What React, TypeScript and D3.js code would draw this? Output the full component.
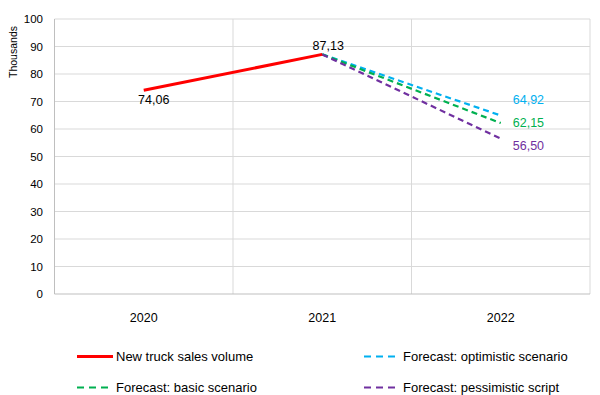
import React, { useEffect, useRef } from 'react';
import * as d3 from 'd3';

const years = ['2020', '2021', '2022'];
const actual = [74.06, 87.13];
const optimistic = [87.13, 64.92];
const basic = [87.13, 62.15];
const pessimistic = [87.13, 56.5];
const yTicks = [0, 10, 20, 30, 40, 50, 60, 70, 80, 90, 100];

const series = [
  { name: 'New truck sales volume', values: actual, start: 0, color: '#FF0000', dashed: false },
  { name: 'Forecast: optimistic scenario', values: optimistic, start: 1, color: '#00B0F0', dashed: true },
  { name: 'Forecast: basic scenario', values: basic, start: 1, color: '#00B050', dashed: true },
  { name: 'Forecast: pessimistic script', values: pessimistic, start: 1, color: '#7030A0', dashed: true },
];

export default function App() {
  const svgRef = useRef(null);

  useEffect(() => {
    const svg = d3.select(svgRef.current);
    svg.selectAll('*').remove();
    const font = 'Liberation Sans, Arial, sans-serif';

    const left = 54.5, right = 590, top = 19, bottom = 294;
    const x = d3.scaleBand().domain(years).range([left, right]);
    const y = d3.scaleLinear().domain([0, 100]).range([bottom, top]);
    const cx = (i) => x(years[i]) + x.bandwidth() / 2;

    // grid
    svg.append('g').selectAll('line').data(yTicks.slice(1)).enter().append('line')
      .attr('x1', left).attr('x2', right)
      .attr('y1', d => y(d)).attr('y2', d => y(d))
      .attr('stroke', '#D9D9D9').attr('stroke-width', 1);
    svg.append('g').selectAll('line').data(years.slice(1).concat(['end'])).enter().append('line')
      .attr('x1', (d, i) => x(years[0]) + x.bandwidth() * (i + 1))
      .attr('x2', (d, i) => x(years[0]) + x.bandwidth() * (i + 1))
      .attr('y1', top).attr('y2', bottom)
      .attr('stroke', '#D9D9D9').attr('stroke-width', 1);
    // axes lines
    svg.append('line').attr('x1', left).attr('x2', left).attr('y1', top).attr('y2', bottom)
      .attr('stroke', '#BFBFBF');
    svg.append('line').attr('x1', left).attr('x2', right).attr('y1', bottom).attr('y2', bottom)
      .attr('stroke', '#BFBFBF');

    // y labels
    svg.append('g').selectAll('text').data(yTicks).enter().append('text')
      .attr('x', 43).attr('y', d => y(d)).attr('dy', '0.35em')
      .attr('text-anchor', 'end').attr('font-family', font).attr('font-size', 11.5)
      .attr('fill', '#000').text(d => d);
    svg.append('text')
      .attr('transform', `translate(17,52) rotate(-90)`)
      .attr('text-anchor', 'middle').attr('font-family', font).attr('font-size', 10.5)
      .text('Thousands');

    // x labels
    svg.append('g').selectAll('text').data(years).enter().append('text')
      .attr('x', (d, i) => cx(i)).attr('y', 318).attr('dy', '0.35em')
      .attr('text-anchor', 'middle').attr('font-family', font).attr('font-size', 12.5)
      .text(d => d);

    // lines (forecasts first, actual on top)
    const line = d3.line().x(d => d[0]).y(d => d[1]);
    [...series.slice(1), series[0]].forEach(s => {
      const pts = s.values.map((v, i) => [cx(s.start + i), y(v)]);
      svg.append('path').attr('d', line(pts)).attr('fill', 'none')
        .attr('stroke', s.color).attr('stroke-width', s.dashed ? 2.2 : 3)
        .attr('stroke-dasharray', s.dashed ? '6,4' : null);
    });

    // data labels
    const lbl = (tx, ty, t, color, anchor) => svg.append('text')
      .attr('x', tx).attr('y', ty).attr('dy', '0.35em').attr('text-anchor', anchor)
      .attr('font-family', font).attr('font-size', 12.5).attr('fill', color).text(t);
    const fmt = (v) => v.toFixed(2).replace('.', ',');
    lbl(cx(0) + 10, y(actual[0]) + 9, fmt(actual[0]), '#000', 'middle');
    lbl(cx(1) + 6, y(actual[1]) - 9, fmt(actual[1]), '#000', 'middle');
    const rightLabelY = [100, 123, 146];
    series.slice(1).forEach((s, i) => {
      lbl(cx(2) + 12, rightLabelY[i], fmt(s.values[1]), s.color, 'start');
    });

    // legend
    const legendPos = [[77, 356.5], [364, 356.5], [77, 387.5], [364, 387.5]];
    legendPos.forEach(([lx, ly], k) => {
      const s = series[k];
      svg.append('line').attr('x1', lx).attr('x2', lx + 36).attr('y1', ly).attr('y2', ly)
        .attr('stroke', s.color).attr('stroke-width', s.dashed ? 2.2 : 3)
        .attr('stroke-dasharray', s.dashed ? '7,5' : null);
      svg.append('text').attr('x', lx + 39).attr('y', ly).attr('dy', '0.35em')
        .attr('font-family', font).attr('font-size', 13).text(s.name);
    });
  }, []);

  return (
    <div style={{ position: 'absolute', left: 0, top: 0 }}>
      <svg ref={svgRef} width={600} height={395} style={{ display: 'block', background: '#fff' }} />
    </div>
  );
}
